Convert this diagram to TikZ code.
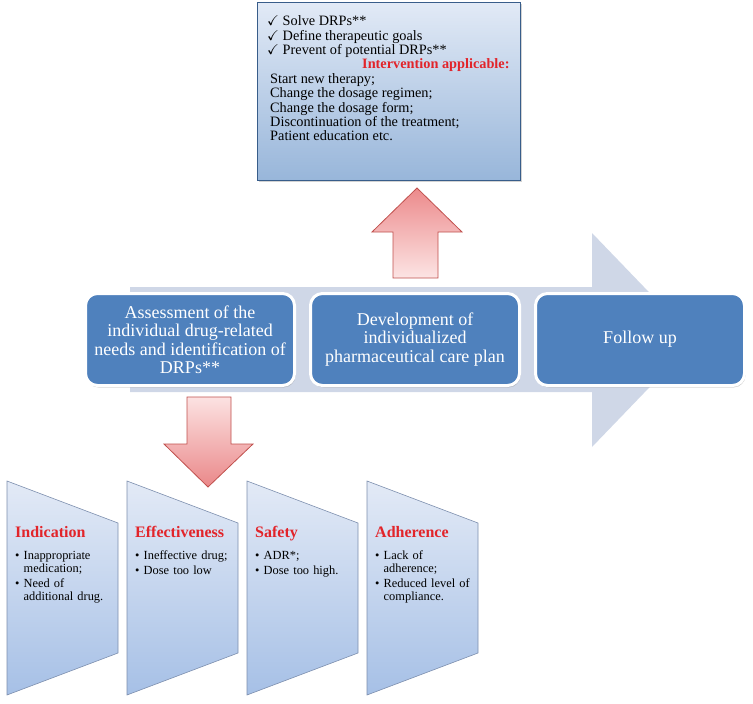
\documentclass[tikz,border=0pt]{standalone}
\usepackage{fontspec}
\setmainfont{Liberation Serif}
\usepackage{amssymb}
\usepackage{tikz}
\usetikzlibrary{shadows,positioning}

\definecolor{stepblue}{RGB}{79,129,189}
\definecolor{flowblue}{RGB}{207,215,231}
\definecolor{planline}{RGB}{56,93,138}
\definecolor{titlered}{RGB}{226,36,42}
\definecolor{arrowred}{RGB}{192,80,77}
\definecolor{facline}{RGB}{125,143,174}

\newcommand{\bitem}[1]{\par\vspace{2pt}\hangindent=8.5pt\hangafter=1\noindent\makebox[8.5pt][l]{\textbullet}#1\par}

\tikzset{
  stepbox/.style={rounded corners=12pt, fill=stepblue, draw=white, line width=3pt,
    minimum width=209pt, minimum height=92pt, text=white, align=center,
    font=\fontsize{18}{18.5}\selectfont,
    drop shadow={opacity=0.35, shadow xshift=1pt, shadow yshift=-2pt}},
  planbox/.style={draw=planline, line width=1pt, top color={rgb,255:red,226;green,234;blue,246},
    bottom color={rgb,255:red,152;green,182;blue,218}, minimum width=263pt, minimum height=178pt,
    drop shadow={opacity=0.35, shadow xshift=2pt, shadow yshift=-2pt}},
  plantext/.style={inner sep=0pt, align=left, font=\fontsize{14.3}{14.4}\selectfont},
  facshape/.style={draw=facline, line width=0.6pt, top color={rgb,255:red,227;green,234;blue,246},
    bottom color={rgb,255:red,166;green,192;blue,230}},
  factitle/.style={inner sep=0pt, text=titlered, font=\fontsize{16}{16}\selectfont\bfseries},
  faclist/.style={inner sep=0pt, text width=100pt, align=left, font=\fontsize{12.4}{13}\selectfont},
  uparrow/.style={draw=arrowred, line width=0.8pt, top color={rgb,255:red,236;green,138;blue,139},
    bottom color={rgb,255:red,252;green,228;blue,228}},
  downarrow/.style={draw=arrowred, line width=0.8pt, top color={rgb,255:red,252;green,226;blue,226},
    bottom color={rgb,255:red,234;green,136;blue,137}},
}

\begin{document}
\begin{tikzpicture}[x=1pt, y=-1pt]
\useasboundingbox (0,0) rectangle (753,704);

% process arrow in the background
\fill[flowblue] (130,287) -- (592,287) -- (592,233) -- (695,340) -- (592,447) -- (592,392) -- (130,392) -- cycle;

% care plan
\node[planbox] (plan) at (388.5,91) {};
\node[plantext, anchor=north west] (plantxt) at (267,15.5) {$\checkmark$ Solve DRPs**\\
$\checkmark$ Define therapeutic goals\\
$\checkmark$ Prevent of potential DRPs**\\
\hspace*{95pt}{\color{titlered}\bfseries Intervention applicable:}\\
\hspace*{3pt}Start new therapy;\\
\hspace*{3pt}Change the dosage regimen;\\
\hspace*{3pt}Change the dosage form;\\
\hspace*{3pt}Discontinuation of the treatment;\\
\hspace*{3pt}Patient education etc.};

\draw[uparrow] (393,278) -- (393,232) -- (372,232) -- (417,188) -- (462,232) -- (438,232) -- (438,278) -- cycle;

% the three steps
\node[stepbox] (assess) at (190,339.5) {Assessment of the\\ individual drug-related\\ needs and identification of\\ DRPs**};
\node[stepbox] (develop) at (415,339.5) {Development of\\ individualized\\ pharmaceutical care plan};
\node[stepbox] (follow) at (640,339.5) {Follow up};

\draw[downarrow] (187,397) -- (231,397) -- (231,444) -- (253,444) -- (208,487) -- (164,444) -- (187,444) -- cycle;

% drug-related problems
\draw[facshape] (7,481) -- (118,523) -- (118,653) -- (7,695) -- cycle;
\draw[facshape] (127,481) -- (238,523) -- (238,653) -- (127,695) -- cycle;
\draw[facshape] (247,481) -- (358,523) -- (358,653) -- (247,695) -- cycle;
\draw[facshape] (367,481) -- (478,523) -- (478,653) -- (367,695) -- cycle;

\node[factitle, anchor=base west] (indt) at (15,537) {Indication};
\node[factitle, anchor=base west] (efft) at (135,537) {Effectiveness};
\node[factitle, anchor=base west] (saft) at (255,537) {Safety};
\node[factitle, anchor=base west] (adht) at (375,537) {Adherence};

\node[faclist, anchor=north west] (indl) at (15,544.5) {\bitem{Inappropriate\newline medication;}\bitem{Need of\newline additional drug.}};
\node[faclist, anchor=north west] (effl) at (135,544.5) {\bitem{Ineffective drug;}\bitem{Dose too low}};
\node[faclist, anchor=north west] (safl) at (255,544.5) {\bitem{ADR*;}\bitem{Dose too high.}};
\node[faclist, anchor=north west] (adhl) at (375,544.5) {\bitem{Lack of\newline adherence;}\bitem{Reduced level of\newline compliance.}};

\end{tikzpicture}
\end{document}
